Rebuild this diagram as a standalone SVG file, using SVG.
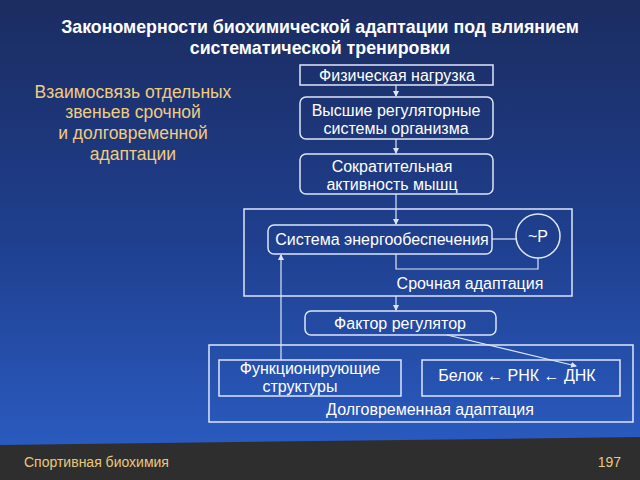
<svg xmlns="http://www.w3.org/2000/svg" width="640" height="480" viewBox="0 0 640 480">
<defs>
<linearGradient id="bg" x1="0" y1="0" x2="0" y2="1">
<stop offset="0" stop-color="#1b2c60"/>
<stop offset="0.5" stop-color="#1f3f8e"/>
<stop offset="1" stop-color="#2c5fc8"/>
</linearGradient>
<marker id="ah" markerWidth="6" markerHeight="6" refX="5" refY="3" orient="auto" markerUnits="userSpaceOnUse">
<path d="M0,0 L6,3 L0,6 z" fill="#dde6f8"/>
</marker>
<style>
.box{fill:none;stroke:#dde6f8;stroke-width:1.5}
.ln{fill:none;stroke:#dde6f8;stroke-width:1.2}
.t{font-family:"Liberation Sans",Arial,sans-serif;font-size:16px;fill:#ffffff;text-anchor:middle}
.ttl{font-family:"Liberation Sans",Arial,sans-serif;font-size:17.8px;font-weight:bold;fill:#ffffff;text-anchor:middle}
.gold{font-family:"Liberation Sans",Arial,sans-serif;font-size:17.5px;fill:#f0cc80;text-anchor:middle}
.ft{font-family:"Liberation Sans",Arial,sans-serif;font-size:14px;fill:#e8c880}
</style>
</defs>
<rect x="0" y="0" width="640" height="480" fill="url(#bg)"/>
<path d="M0,445 L640,437 L640,480 L0,480 z" fill="#2e2e2e"/>

<text class="ttl" x="320" y="33">Закономерности биохимической адаптации под влиянием</text>
<text class="ttl" x="320" y="54">систематической тренировки</text>

<g id="left-text">
<text class="gold" x="133" y="98">Взаимосвязь отдельных</text>
<text class="gold" x="133" y="118">звеньев срочной</text>
<text class="gold" x="133" y="139">и долговременной</text>
<text class="gold" x="133" y="160">адаптации</text>
</g>

<g id="connectors">
<line class="ln" x1="396" y1="85" x2="396" y2="96" marker-end="url(#ah)"/>
<line class="ln" x1="396" y1="139" x2="396" y2="153" marker-end="url(#ah)"/>
<line class="ln" x1="396" y1="194" x2="396" y2="224" marker-end="url(#ah)"/>
<polyline class="ln" points="492,239 516,239"/>
<polyline class="ln" points="396,254 396,269 538,269 538,258"/>
<line class="ln" x1="396" y1="296" x2="396" y2="310" marker-end="url(#ah)"/>
<line class="ln" x1="281" y1="360" x2="281" y2="255" marker-end="url(#ah)"/>
<line class="ln" x1="447" y1="335" x2="576" y2="366" marker-end="url(#ah)"/>
</g>

<g id="n-fiz">
<rect class="box" x="300" y="65" width="193" height="20"/>
<text class="t" x="397" y="81">Физическая нагрузка</text>
</g>
<g id="n-vysshie">
<rect class="box" x="300" y="97" width="193" height="42" rx="6"/>
<text class="t" x="396" y="116">Высшие регуляторные</text>
<text class="t" x="396" y="134">системы организма</text>
</g>
<g id="n-sokr">
<rect class="box" x="300" y="154" width="193" height="40" rx="6"/>
<text class="t" x="392" y="172">Сократительная</text>
<text class="t" x="392" y="190">активность мышц</text>
</g>
<g id="n-srochnaya">
<rect class="box" x="244" y="209" width="328" height="87"/>
<text class="t" x="470" y="289">Срочная адаптация</text>
</g>
<g id="n-sistema">
<rect class="box" x="268" y="225" width="224" height="29" rx="6"/>
<text class="t" x="382" y="245">Система энергообеспечения</text>
</g>
<g id="n-p">
<circle class="box" cx="538" cy="236" r="22"/>
<text class="t" x="538" y="242">~P</text>
</g>
<g id="n-faktor">
<rect class="box" x="305" y="311" width="191" height="24" rx="6"/>
<text class="t" x="400" y="329">Фактор регулятор</text>
</g>
<g id="n-dolg">
<rect class="box" x="209" y="345" width="424" height="77"/>
<text class="t" x="430" y="415">Долговременная адаптация</text>
</g>
<g id="n-funk">
<rect class="box" x="219" y="360" width="182" height="36"/>
<text class="t" x="310" y="374">Функционирующие</text>
<text class="t" x="300" y="392">структуры</text>
</g>
<g id="n-belok">
<rect class="box" x="422" y="360" width="198" height="36"/>
<text class="t" x="517" y="381">Белок ← РНК ← ДНК</text>
</g>

<text class="ft" x="24" y="467">Спортивная биохимия</text>
<text class="ft" x="621" y="467" text-anchor="end">197</text>
</svg>
